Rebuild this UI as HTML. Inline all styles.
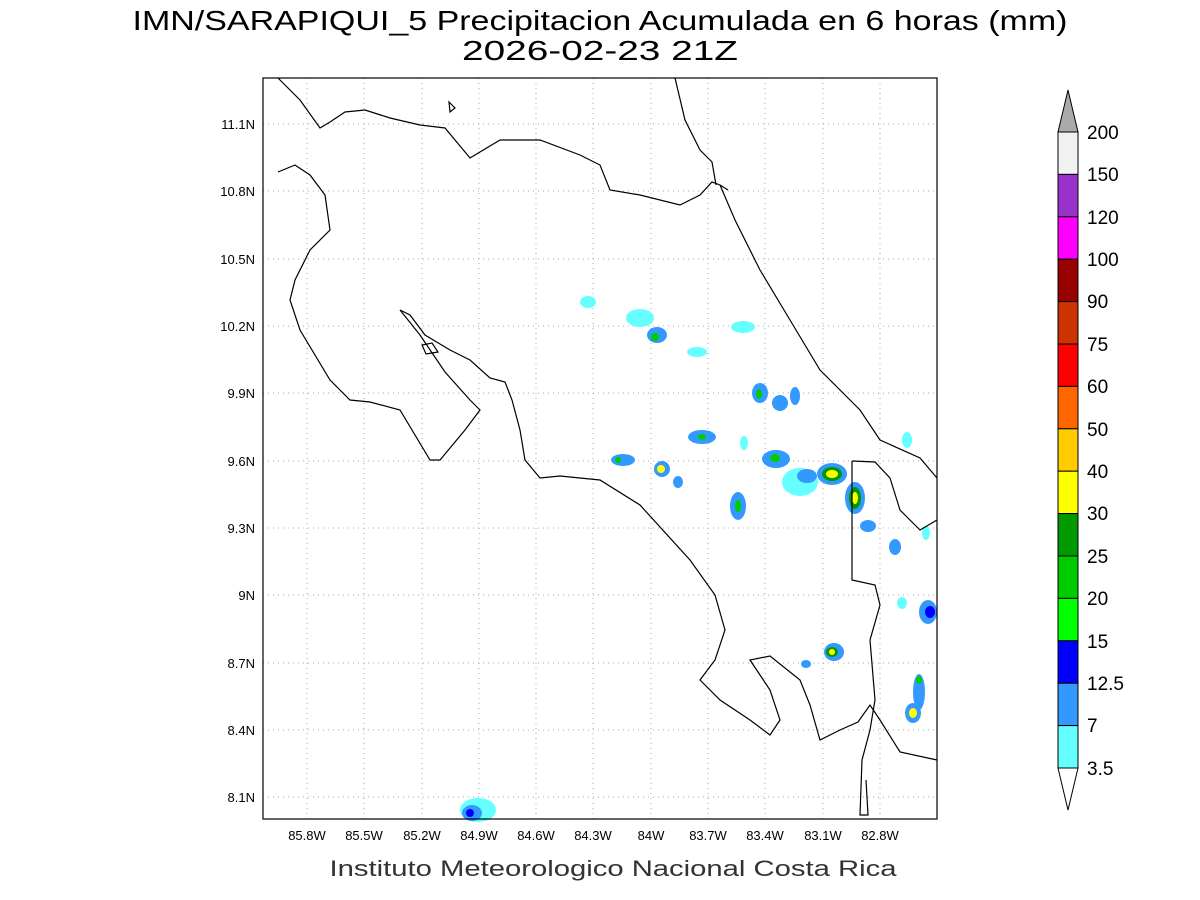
<!DOCTYPE html>
<html><head><meta charset="utf-8"><style>body{margin:0;background:#fff}svg{display:block}</style></head><body>
<svg width="1200" height="900" xmlns="http://www.w3.org/2000/svg" font-family="Liberation Sans, sans-serif">
<rect width="1200" height="900" fill="#fff"/>
<text x="600" y="30" font-size="28" text-anchor="middle" textLength="935" lengthAdjust="spacingAndGlyphs">IMN/SARAPIQUI_5 Precipitacion Acumulada en 6 horas (mm)</text>
<text x="600" y="60" font-size="28" text-anchor="middle" textLength="276" lengthAdjust="spacingAndGlyphs">2026-02-23 21Z</text>
<g stroke="#aaa" stroke-dasharray="1,4" stroke-width="1">
<line x1="307" y1="78" x2="307" y2="819"/><line x1="364" y1="78" x2="364" y2="819"/><line x1="422" y1="78" x2="422" y2="819"/><line x1="479" y1="78" x2="479" y2="819"/><line x1="536" y1="78" x2="536" y2="819"/><line x1="593" y1="78" x2="593" y2="819"/><line x1="651" y1="78" x2="651" y2="819"/><line x1="708" y1="78" x2="708" y2="819"/><line x1="765" y1="78" x2="765" y2="819"/><line x1="823" y1="78" x2="823" y2="819"/><line x1="880" y1="78" x2="880" y2="819"/>
<line x1="263" y1="124" x2="937" y2="124"/><line x1="263" y1="191" x2="937" y2="191"/><line x1="263" y1="259" x2="937" y2="259"/><line x1="263" y1="326" x2="937" y2="326"/><line x1="263" y1="393" x2="937" y2="393"/><line x1="263" y1="461" x2="937" y2="461"/><line x1="263" y1="528" x2="937" y2="528"/><line x1="263" y1="595" x2="937" y2="595"/><line x1="263" y1="663" x2="937" y2="663"/><line x1="263" y1="730" x2="937" y2="730"/><line x1="263" y1="797" x2="937" y2="797"/>
</g>
<g>
<ellipse cx="640" cy="318" rx="14" ry="9" fill="#66ffff"/><ellipse cx="657" cy="335" rx="10" ry="8" fill="#3399ff"/><ellipse cx="655" cy="337" rx="4" ry="4" fill="#00cc00"/>
<ellipse cx="588" cy="302" rx="8" ry="6" fill="#66ffff"/><ellipse cx="743" cy="327" rx="12" ry="6" fill="#66ffff"/><ellipse cx="697" cy="352" rx="10" ry="5" fill="#66ffff"/>
<ellipse cx="760" cy="393" rx="8" ry="10" fill="#3399ff"/><ellipse cx="759" cy="394" rx="3" ry="5" fill="#00cc00"/>
<ellipse cx="780" cy="403" rx="8" ry="8" fill="#3399ff"/><ellipse cx="795" cy="396" rx="5" ry="9" fill="#3399ff"/>
<ellipse cx="702" cy="437" rx="14" ry="7" fill="#3399ff"/><ellipse cx="702" cy="437" rx="4" ry="3" fill="#00cc00"/>
<ellipse cx="623" cy="460" rx="12" ry="6" fill="#3399ff"/><ellipse cx="618" cy="460" rx="3" ry="3" fill="#00cc00"/>
<ellipse cx="662" cy="469" rx="8" ry="8" fill="#3399ff"/><ellipse cx="661" cy="469" rx="4" ry="4" fill="#ffff00"/>
<ellipse cx="678" cy="482" rx="5" ry="6" fill="#3399ff"/>
<ellipse cx="776" cy="459" rx="14" ry="9" fill="#3399ff"/><ellipse cx="775" cy="458" rx="5" ry="4" fill="#00cc00"/>
<ellipse cx="738" cy="506" rx="8" ry="14" fill="#3399ff"/><ellipse cx="738" cy="506" rx="3" ry="6" fill="#00cc00"/>
<ellipse cx="800" cy="482" rx="18" ry="14" fill="#66ffff"/><ellipse cx="807" cy="476" rx="10" ry="7" fill="#3399ff"/>
<ellipse cx="832" cy="474" rx="15" ry="11" fill="#3399ff"/><ellipse cx="832" cy="474" rx="10" ry="7" fill="#009900"/><ellipse cx="832" cy="474" rx="6" ry="4" fill="#ffff00"/>
<ellipse cx="855" cy="498" rx="10" ry="16" fill="#3399ff"/><ellipse cx="855" cy="498" rx="6" ry="11" fill="#009900"/><ellipse cx="855" cy="498" rx="3" ry="6" fill="#ffff00"/>
<ellipse cx="868" cy="526" rx="8" ry="6" fill="#3399ff"/><ellipse cx="895" cy="547" rx="6" ry="8" fill="#3399ff"/><ellipse cx="907" cy="440" rx="5" ry="8" fill="#66ffff"/>
<ellipse cx="928" cy="612" rx="9" ry="12" fill="#3399ff"/><ellipse cx="930" cy="612" rx="5" ry="6" fill="#0000ff"/>
<ellipse cx="834" cy="652" rx="10" ry="9" fill="#3399ff"/><ellipse cx="832" cy="652" rx="6" ry="5" fill="#009900"/><ellipse cx="832" cy="652" rx="3" ry="3" fill="#ffff00"/>
<ellipse cx="806" cy="664" rx="5" ry="4" fill="#3399ff"/><ellipse cx="919" cy="692" rx="6" ry="18" fill="#3399ff"/><ellipse cx="919" cy="680" rx="3" ry="4" fill="#00cc00"/>
<ellipse cx="913" cy="713" rx="8" ry="10" fill="#3399ff"/><ellipse cx="913" cy="713" rx="4" ry="5" fill="#ffff00"/>
<ellipse cx="478" cy="810" rx="18" ry="12" fill="#66ffff"/><ellipse cx="472" cy="813" rx="10" ry="8" fill="#3399ff"/><ellipse cx="470" cy="813" rx="4" ry="4" fill="#0000ff"/>
<ellipse cx="926" cy="533" rx="4" ry="7" fill="#66ffff"/><ellipse cx="902" cy="603" rx="5" ry="6" fill="#66ffff"/><ellipse cx="744" cy="443" rx="4" ry="7" fill="#66ffff"/>
</g>
<g fill="none" stroke="#000" stroke-width="1.2">
<polyline points="278,78 300,100 320,128 330,122 345,112 365,110 390,118 420,125 445,128 470,158 500,140 540,140 580,155 600,165 610,190 640,195 680,205 700,195 712,182 720,185 728,190"/>
<polyline points="675,78 685,120 700,150 712,162 716,185"/>
<polyline points="720,185 735,220 760,270 790,320 820,370 860,410 880,440 920,458 937,478"/>
<polyline points="278,172 295,165 310,175 325,195 330,230 310,250 295,280 290,300 300,330 330,380 350,400 370,402 400,410 430,460 440,460 465,430 480,410 470,400 445,372 420,335 400,310 410,315 425,335 450,350 470,360 490,378 505,382 512,400 520,430 525,460 540,478 560,476 600,480 640,505 690,560 715,595 725,630 715,660 700,680 720,700 750,720 770,735 780,720 770,690 750,660 770,656 800,680 810,705 820,740 840,730 858,722 870,705 880,720 900,752 937,760"/>
<polyline points="852,461 852,580 875,585 880,605 870,640 875,700 870,730 862,760 860,815 868,815 866,780"/>
<polyline points="852,461 875,462 890,478 900,510 920,530 937,520"/>
<polygon points="422,345 432,343 438,352 426,354"/>
<polygon points="449,102 455,108 450,112"/>
</g>
<rect x="263" y="78" width="674" height="741" fill="none" stroke="#000" stroke-width="1.2"/>
<g font-size="13" text-anchor="middle">
<text x="307" y="840">85.8W</text><text x="364" y="840">85.5W</text><text x="422" y="840">85.2W</text><text x="479" y="840">84.9W</text><text x="536" y="840">84.6W</text><text x="593" y="840">84.3W</text><text x="651" y="840">84W</text><text x="708" y="840">83.7W</text><text x="765" y="840">83.4W</text><text x="823" y="840">83.1W</text><text x="880" y="840">82.8W</text>
</g>
<g font-size="13" text-anchor="end">
<text x="255" y="129">11.1N</text><text x="255" y="196">10.8N</text><text x="255" y="264">10.5N</text><text x="255" y="331">10.2N</text><text x="255" y="398">9.9N</text><text x="255" y="466">9.6N</text><text x="255" y="533">9.3N</text><text x="255" y="600">9N</text><text x="255" y="668">8.7N</text><text x="255" y="735">8.4N</text><text x="255" y="802">8.1N</text>
</g>
<text x="613" y="876" font-size="22" text-anchor="middle" textLength="567" lengthAdjust="spacingAndGlyphs" fill="#333">Instituto Meteorologico Nacional Costa Rica</text>
<g stroke="#000" stroke-width="1">
<polygon points="1058,132 1078,132 1068,90" fill="#aaa"/>
<rect x="1058" y="132" width="20" height="42.4" fill="#f2f2f2"/>
<rect x="1058" y="174.4" width="20" height="42.4" fill="#9933cc"/>
<rect x="1058" y="216.8" width="20" height="42.4" fill="#ff00ff"/>
<rect x="1058" y="259.2" width="20" height="42.4" fill="#990000"/>
<rect x="1058" y="301.6" width="20" height="42.4" fill="#cc3300"/>
<rect x="1058" y="344" width="20" height="42.4" fill="#ff0000"/>
<rect x="1058" y="386.4" width="20" height="42.4" fill="#ff6600"/>
<rect x="1058" y="428.8" width="20" height="42.4" fill="#ffcc00"/>
<rect x="1058" y="471.2" width="20" height="42.4" fill="#ffff00"/>
<rect x="1058" y="513.6" width="20" height="42.4" fill="#009900"/>
<rect x="1058" y="556" width="20" height="42.4" fill="#00cc00"/>
<rect x="1058" y="598.4" width="20" height="42.4" fill="#00ff00"/>
<rect x="1058" y="640.8" width="20" height="42.4" fill="#0000ff"/>
<rect x="1058" y="683.2" width="20" height="42.4" fill="#3399ff"/>
<rect x="1058" y="725.6" width="20" height="42.4" fill="#66ffff"/>
<polygon points="1058,768 1078,768 1068,810" fill="#fff"/>
</g>
<g font-size="19">
<text x="1087" y="139">200</text><text x="1087" y="181">150</text><text x="1087" y="224">120</text><text x="1087" y="266">100</text><text x="1087" y="308">90</text><text x="1087" y="351">75</text><text x="1087" y="393">60</text><text x="1087" y="436">50</text><text x="1087" y="478">40</text><text x="1087" y="520">30</text><text x="1087" y="563">25</text><text x="1087" y="605">20</text><text x="1087" y="648">15</text><text x="1087" y="690">12.5</text><text x="1087" y="732">7</text><text x="1087" y="775">3.5</text>
</g>
</svg>
</body></html>
